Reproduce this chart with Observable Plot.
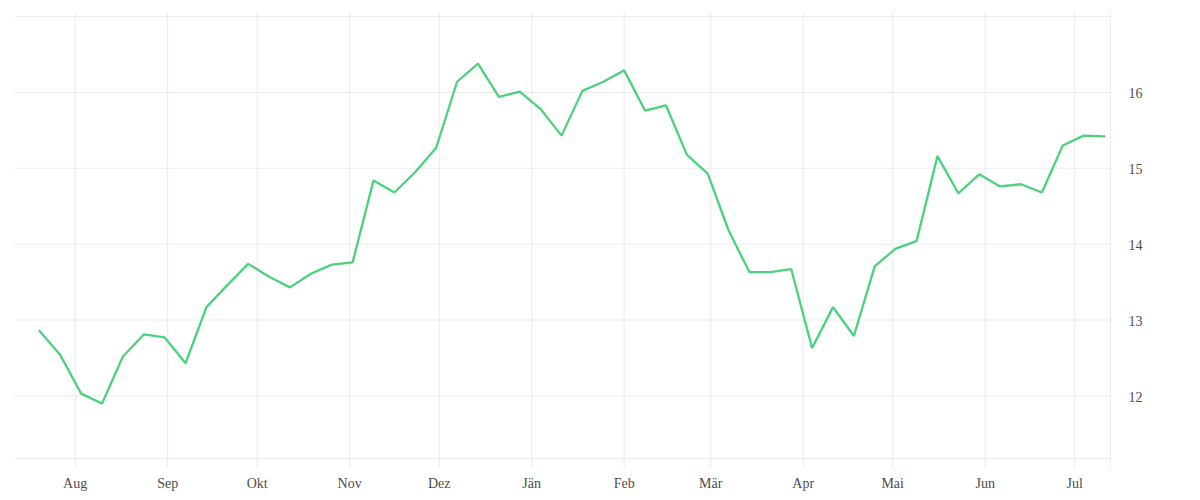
<!DOCTYPE html>
<html>
<head>
<meta charset="utf-8">
<script src="https://cdn.jsdelivr.net/npm/d3@7"></script>
<script src="https://cdn.jsdelivr.net/npm/@observablehq/plot@0.6"></script>
<style>
  html, body { margin: 0; padding: 0; background: #fff; }
  #chart { width: 1200px; height: 500px; }
</style>
</head>
<body>
<div id="chart"></div>
<script>
// Weekly observation dates
const dates = [
  "2023-07-20","2023-07-27","2023-08-03","2023-08-10","2023-08-17","2023-08-24","2023-08-31",
  "2023-09-07","2023-09-14","2023-09-21","2023-09-28","2023-10-05","2023-10-12","2023-10-19",
  "2023-10-26","2023-11-02","2023-11-09","2023-11-16","2023-11-23","2023-11-30","2023-12-07",
  "2023-12-14","2023-12-21","2023-12-28","2024-01-04","2024-01-11","2024-01-18","2024-01-25",
  "2024-02-01","2024-02-08","2024-02-15","2024-02-22","2024-02-29","2024-03-07","2024-03-14",
  "2024-03-21","2024-03-28","2024-04-04","2024-04-11","2024-04-18","2024-04-25","2024-05-02",
  "2024-05-09","2024-05-16","2024-05-23","2024-05-30","2024-06-06","2024-06-13","2024-06-20",
  "2024-06-27","2024-07-04","2024-07-11"
];
// Values
const values = [
  12.86, 12.54, 12.03, 11.90, 12.52, 12.81, 12.77,
  12.43, 13.17, 13.46, 13.74, 13.57, 13.43, 13.61,
  13.73, 13.76, 14.84, 14.68, 14.95, 15.27, 16.14,
  16.38, 15.94, 16.01, 15.78, 15.43, 16.02, 16.14,
  16.29, 15.76, 15.83, 15.18, 14.93, 14.18, 13.63,
  13.63, 13.67, 12.63, 13.17, 12.79, 13.71, 13.94,
  14.04, 15.16, 14.67, 14.92, 14.76, 14.79, 14.68,
  15.30, 15.43, 15.42
];
// Month ticks and labels
const monthTicks = [
  "2023-08-01","2023-09-01","2023-10-01","2023-11-01","2023-12-01","2024-01-01",
  "2024-02-01","2024-03-01","2024-04-01","2024-05-01","2024-06-01","2024-07-01"
];
const monthLabels = ["Aug","Sep","Okt","Nov","Dez","Jän","Feb","Mär","Apr","Mai","Jun","Jul"];
const yTicks = [12, 13, 14, 15, 16];
const xDomain = ["2023-07-12", "2024-07-13"];
const yDomain = [11.175, 17];

const parse = d3.utcParse("%Y-%m-%d");
const data = dates.map((d, i) => ({date: parse(d), value: values[i]}));
const tickDates = monthTicks.map(parse);
const labelOf = new Map(tickDates.map((d, i) => [+d, monthLabels[i]]));
const xDom = xDomain.map(parse);

const grid = "#ebebeb";
const txt = "#4d4d4d";

const chart = Plot.plot({
  width: 1200,
  height: 500,
  marginLeft: 15,
  marginRight: 90,
  marginTop: 16,
  marginBottom: 42,
  style: {fontFamily: "'Liberation Serif', serif", fontSize: "14px", background: "#fff", color: txt},
  x: {type: "utc", domain: xDom},
  y: {domain: yDomain},
  marks: [
    Plot.ruleY(yTicks, {stroke: grid, strokeWidth: 1}),
    Plot.ruleY(yDomain, {stroke: grid, strokeWidth: 1}),
    Plot.ruleX(tickDates, {stroke: grid, strokeWidth: 1, insetTop: -4, insetBottom: -10}),
    Plot.ruleX([xDom[1]], {stroke: grid, strokeWidth: 1, insetTop: -4, insetBottom: -10}),
    Plot.axisX(tickDates, {
      tickSize: 0, tickPadding: 20, fill: txt, fontSize: 14,
      tickFormat: d => labelOf.get(+d)
    }),
    Plot.axisY(yTicks, {
      anchor: "right", tickSize: 0, tickPadding: 18, fill: txt, fontSize: 14,
      dy: 1.5, label: null, tickFormat: d3.format("d")
    }),
    Plot.lineY(data, {x: "date", y: "value", stroke: "#4cd17c", strokeWidth: 2.3, strokeLinejoin: "miter", curve: "linear"})
  ]
});
document.getElementById("chart").appendChild(chart);
</script>
</body>
</html>
